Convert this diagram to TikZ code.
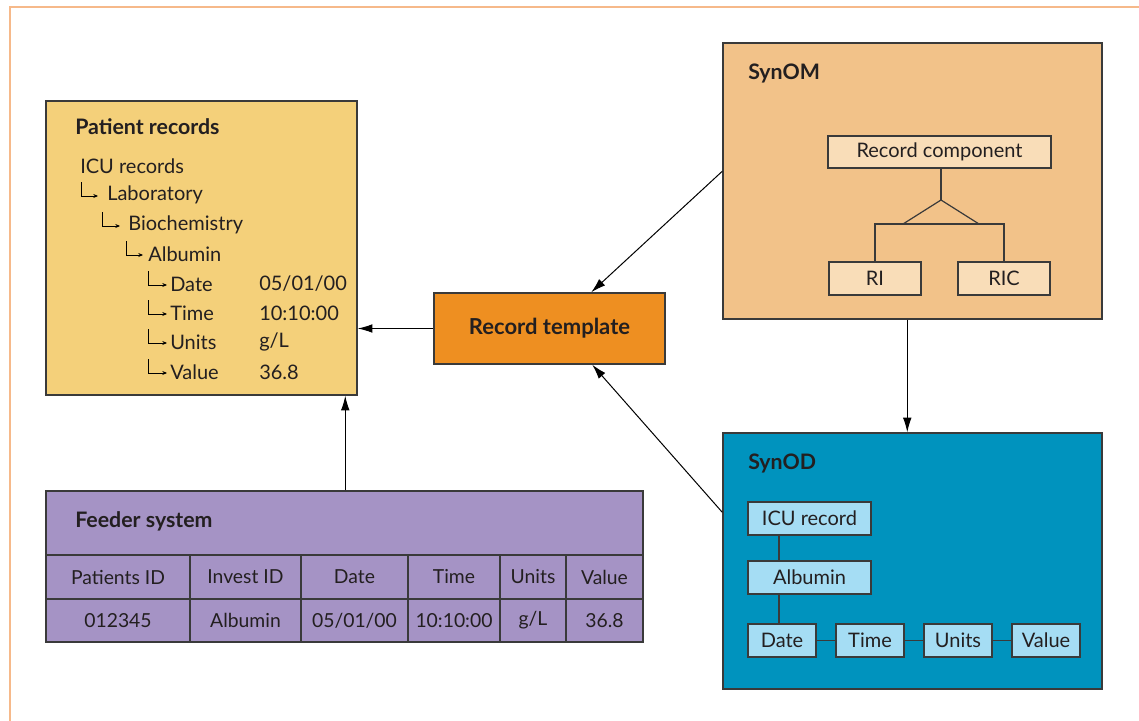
\documentclass[tikz,border=0pt]{standalone}
\usepackage{fontspec}
\setmainfont{Lato}
\usetikzlibrary{arrows.meta,calc,fit}
\definecolor{frameor}{HTML}{F6B98A}
\definecolor{txt}{HTML}{231F20}
\definecolor{bordc}{HTML}{3A3A3A}
\definecolor{prfill}{HTML}{F4D07A}
\definecolor{rtfill}{HTML}{EE8F21}
\definecolor{omfill}{HTML}{F2C289}
\definecolor{omin}{HTML}{F9DDB8}
\definecolor{odfill}{HTML}{0093BE}
\definecolor{odin}{HTML}{A5DDF4}
\definecolor{fsfill}{HTML}{A593C5}
\tikzset{
  box/.style={draw=bordc, line width=1.1pt, inner sep=0pt},
  cell/.style={draw=bordc, line width=0.9pt, inner sep=0pt},
  ttl/.style={font=\fontsize{16}{18}\selectfont\bfseries, anchor=west, inner sep=0pt},
  item/.style={anchor=west, inner sep=0pt},
  lbl/.style={inner sep=0pt},
  tbl/.style={inner sep=0pt, font=\fontsize{14.5}{16}\selectfont},
  arr/.style={line width=0.75pt, -{Latex[length=11pt,width=6.5pt]}},
  conn/.style={draw=bordc, line width=0.9pt},
  hookarr/.style={line width=0.6pt, -{Stealth[length=3.5pt,width=3pt]}}
}
\newcommand\hookline[3]{\draw[hookarr] ($(#1.west)+(#2,-13)$) |- ($(#1.west)+(#3,1)$);}
\begin{document}
\begin{tikzpicture}[x=0.75pt,y=-0.75pt, font=\fontsize{15}{17}\selectfont, text=txt]
\useasboundingbox (0,0) rectangle (1139,721);
\fill[white] (0,0) rectangle (1139,721);
\draw[frameor, line width=2.2pt] (10,722) -- (10,7) -- (1140,7);

% Patient records
\node[box, fill=prfill, fit={(46,101) (357,395)}] (pr) {};
\node[ttl] (prt) at (75,127) {Patient records};
\node[item] (icu) at (80,166) {ICU records};
\node[item] (lab) at (107,195) {Laboratory};
\node[item] (bio) at (128,225) {Biochemistry};
\node[item] (alb) at (148,254) {Albumin};
\node[item] (dat) at (170,284) {Date};
\node[item] (tim) at (170,313) {Time};
\node[item] (uni) at (170,342) {Units};
\node[item] (val) at (170,372) {Value};
\node[item] (datv) at (259,284) {05/01/00};
\node[item] (timv) at (259,313) {10:10:00};
\node[item] (univ) at (259,342) {g/L};
\node[item] (valv) at (259,372) {36.8};
\hookline{lab}{-26}{-9}
\hookline{bio}{-26}{-8}
\hookline{alb}{-22}{-5}
\hookline{dat}{-22}{-3}
\hookline{tim}{-22}{-3}
\hookline{uni}{-22}{-3}
\hookline{val}{-22}{-3}

% Record template
\node[box, fill=rtfill, fit={(434,293) (665,364)}] (rt) {};
\node[lbl, font=\fontsize{16.5}{18}\selectfont\bfseries] (rtl) at (rt.center) {Record template};

% SynOM
\node[box, fill=omfill, fit={(723,43) (1102,319)}] (om) {};
\node[ttl] (omt) at (748,73) {SynOM};
\node[cell, fill=omin, fit={(828,136) (1051,168)}] (rc) {};
\node[lbl] (rcl) at (rc.center) {Record component};
\node[cell, fill=omin, fit={(829,262) (921,295)}] (ri) {};
\node[lbl] (ril) at (ri.center) {RI};
\node[cell, fill=omin, fit={(958,262) (1050,295)}] (ric) {};
\node[lbl] (ricl) at (ric.center) {RIC};
\coordinate (apex) at (941,200);
\coordinate (bar) at (941,224);
\draw[conn] (rc.south -| apex) -- (apex);
\draw[conn] ($(bar)+(-38,0)$) -- (apex) -- ($(bar)+(38,0)$);
\draw[conn] (ri.north) -- (ri.north |- bar) -- (ric.north |- bar) -- (ric.north);

% SynOD
\node[box, fill=odfill, fit={(723,433) (1102,689)}] (od) {};
\node[ttl] (odt) at (748,463) {SynOD};
\node[cell, fill=odin, fit={(748,502) (871,535)}] (oicu) {};
\node[lbl] at (oicu.center) {ICU record};
\node[cell, fill=odin, fit={(748,561) (871,594)}] (oalb) {};
\node[lbl] at (oalb.center) {Albumin};
\node[cell, fill=odin, fit={(748,624) (816,657)}] (odat) {};
\node[lbl] at (odat.center) {Date};
\node[cell, fill=odin, fit={(836,624) (904,657)}] (otim) {};
\node[lbl] at (otim.center) {Time};
\node[cell, fill=odin, fit={(924,624) (992,657)}] (ouni) {};
\node[lbl] at (ouni.center) {Units};
\node[cell, fill=odin, fit={(1012,624) (1080,657)}] (oval) {};
\node[lbl] at (oval.center) {Value};
\coordinate (vx) at (779,0);
\draw[conn] (oicu.south -| vx) -- (oalb.north -| vx);
\draw[conn] (oalb.south -| vx) -- (odat.north -| vx);
\draw[conn] (odat.east) -- (otim.west);
\draw[conn] (otim.east) -- (ouni.west);
\draw[conn] (ouni.east) -- (oval.west);

% Feeder system
\node[box, fill=fsfill, fit={(46,491) (643,642)}] (fs) {};
\node[cell, fit={(46,491) (643,555)}] (fsh) {};
\node[ttl] (fst) at (75,521) {Feeder system};
\foreach \a/\b/\ha/\hb/\nm in {46/190/{Patients ID}/{012345}/c1, 190/301/{Invest ID}/{Albumin}/c2, 301/408/{Date}/{05/01/00}/c3, 408/500/{Time}/{10:10:00}/c4, 500/566/{Units}/{g/L}/c5, 566/643/{Value}/{36.8}/c6}{
  \node[cell, fit={(\a,555) (\b,599)}] (\nm a) {};
  \node[tbl] at (\nm a.center) {\ha};
  \node[cell, fit={(\a,599) (\b,642)}] (\nm b) {};
  \node[tbl] at (\nm b.center) {\hb};
}

% Arrows
\draw[arr] (rt.west) -- (pr.east |- rt.west);
\draw[arr] ($(fs.north west)+(300,0)$) -- ($(pr.south west)+(300,0)$);
\draw[arr] ($(om.north west)+(0,129)$) -- ($(rt.north west)+(158,0)$);
\draw[arr] ($(od.north west)+(0,80)$) -- ($(rt.south west)+(159,0)$);
\draw[arr] ($(om.south west)+(185,0)$) -- ($(od.north west)+(185,0)$);
\end{tikzpicture}
\end{document}
